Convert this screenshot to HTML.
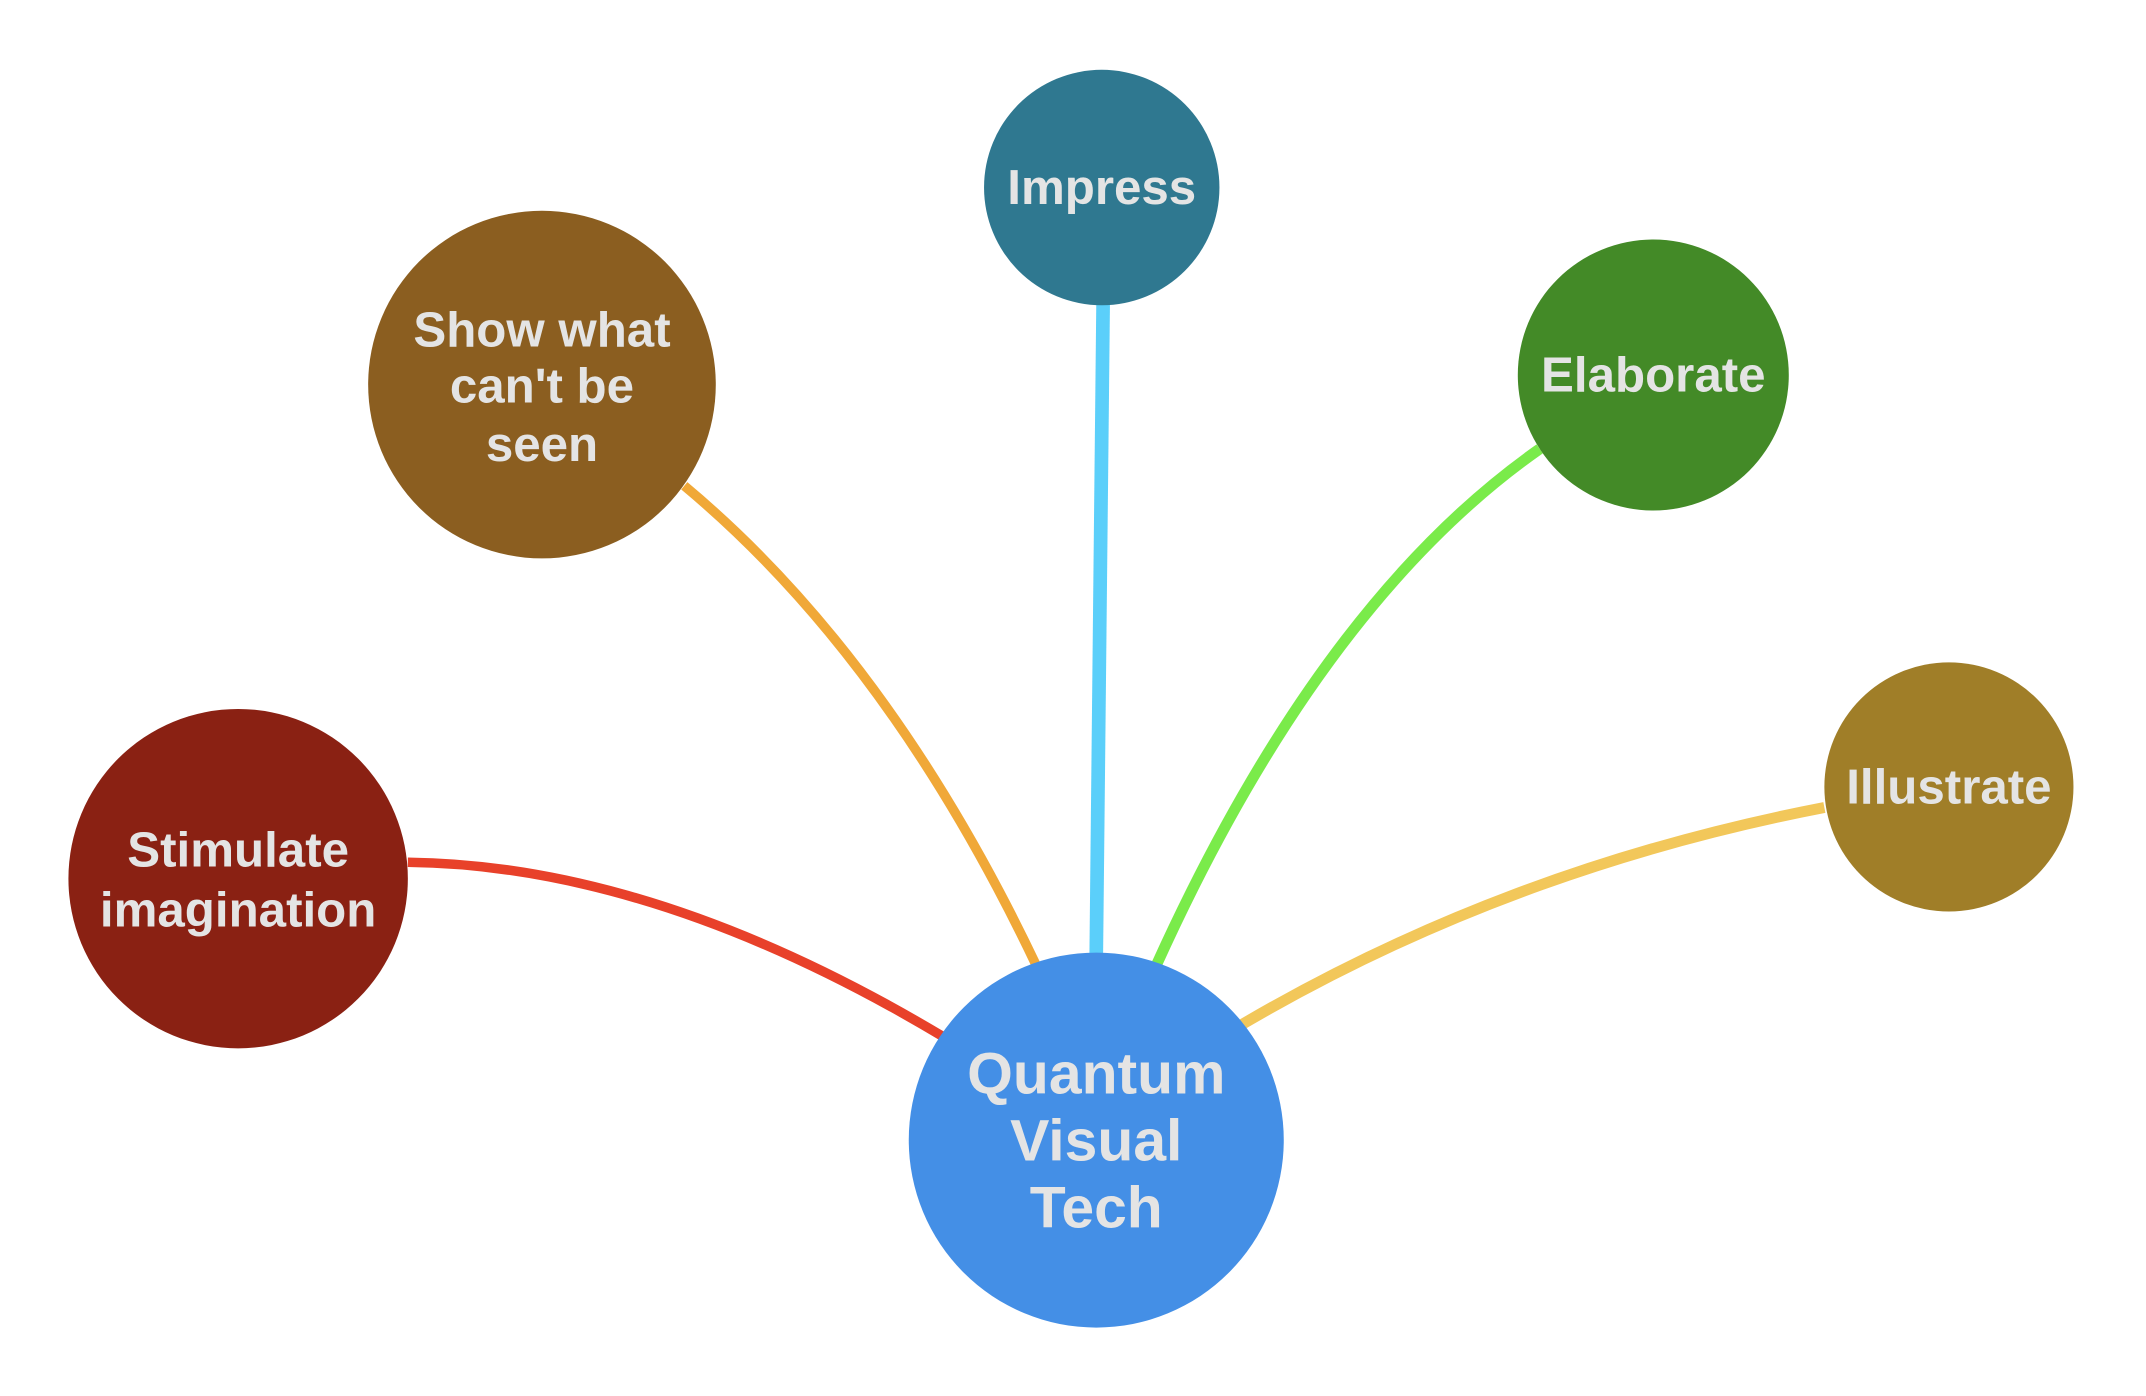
<!DOCTYPE html>
<html><head><meta charset="utf-8"><style>
html,body{margin:0;padding:0;background:#fff;}
svg{display:block}
text{font-family:"Liberation Sans",Arial,sans-serif;font-weight:bold;fill:#e4e4e4;text-anchor:middle}
</style></head><body>
<svg width="2146" height="1396" viewBox="0 0 1568 1020" xmlns="http://www.w3.org/2000/svg">
<g fill="none" stroke-linecap="butt">
<path d="M298,630 Q480,632 690,758" stroke="#e8412a" stroke-width="7"/>
<path d="M500,355 Q650,480 757,705" stroke="#f0a838" stroke-width="7"/>
<path d="M806,222 L801,697" stroke="#5bcffa" stroke-width="10"/>
<path d="M1125,328 Q965,440 845,705" stroke="#7aeb4a" stroke-width="8"/>
<path d="M1333,590 Q1100,635 905,750" stroke="#f2c75a" stroke-width="8"/>
</g>
<circle cx="801" cy="833" r="137" fill="#448fe6"/>
<circle cx="174" cy="642" r="124" fill="#8a2113"/>
<circle cx="396" cy="281" r="127" fill="#8b5e20"/>
<circle cx="805" cy="137" r="86" fill="#2f7890"/>
<circle cx="1208" cy="274" r="99" fill="#438a27"/>
<circle cx="1424" cy="575" r="91" fill="#a07e28"/>
<text x="801" y="799" font-size="43">Quantum</text>
<text x="801" y="848" font-size="43">Visual</text>
<text x="801" y="897" font-size="43">Tech</text>
<text x="174" y="633" font-size="36">Stimulate</text>
<text x="174" y="677" font-size="36">imagination</text>
<text x="396" y="253" font-size="36">Show what</text>
<text x="396" y="294" font-size="36">can't be</text>
<text x="396" y="337" font-size="36">seen</text>
<text x="805" y="149" font-size="36">Impress</text>
<text x="1208" y="286" font-size="36">Elaborate</text>
<text x="1424" y="587" font-size="36">Illustrate</text>
</svg>
</body></html>
